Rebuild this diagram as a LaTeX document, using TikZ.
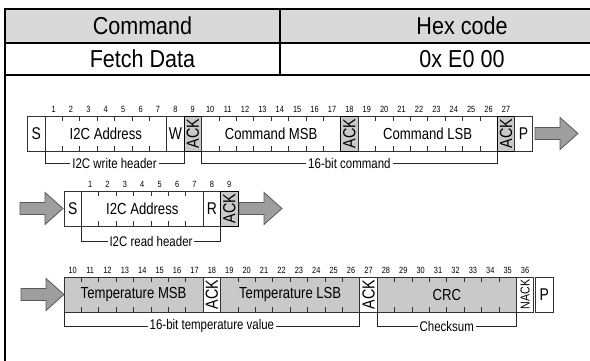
\documentclass[tikz,border=0pt]{standalone}
\usepackage{fontspec}
\setmainfont{Liberation Sans}
\newfontfamily\narrowfont{Liberation Sans}[FakeStretch=0.82]
\newfontfamily\headfont{Liberation Sans}[FakeStretch=0.88]
\usetikzlibrary{calc}

\def\bh{35}
\def\blockarrow(#1,#2){\draw[bigarrow] (#1,#2-6) -- ++(25,0) -- ++(0,-10) -- ++(18,16) -- ++(-18,16) -- ++(0,-10) -- ++(-25,0) -- cycle;}
\newcommand{\field}[6]{%
  \draw[#1] (#2,0) rectangle ++(#3,\bh);
  \foreach \tk in {1,...,#3}{\ifnum\tk<#3 \draw[bittick] (#2+\tk,0) -- ++(0,5) (#2+\tk,\bh) -- ++(0,-5);\fi}
  \node[#5] (#4) at ({#2+#3/2},{\bh/2}) {#6};}

\tikzset{
  tbl/.style={line width=1.8pt},
  whitebox/.style={draw=black!80, line width=0.8pt, fill=white},
  greybox/.style={draw=black!80, line width=0.8pt, fill=black!21},
  ackbox/.style={draw=black, line width=1pt, fill=black!21},
  bittick/.style={draw=black!80, line width=0.8pt},
  bigarrow/.style={draw=black!65, fill=black!38, line width=0.8pt},
  brace/.style={draw=black!85, line width=0.8pt},
  headtxt/.style={font=\headfont\fontsize{24.5}{26}\selectfont},
  fieldtxt/.style={inner sep=0pt, font=\narrowfont\fontsize{16}{18}\selectfont},
  bittxt/.style={inner sep=0pt, font=\narrowfont\fontsize{17}{19}\selectfont},
  acktxt/.style={inner sep=0pt, rotate=90, font=\narrowfont\fontsize{17.5}{19}\selectfont},
  nacktxt/.style={inner sep=0pt, rotate=90, font=\narrowfont\fontsize{13}{15}\selectfont},
  bitno/.style={inner sep=0pt, anchor=base, font=\narrowfont\fontsize{9}{10}\selectfont},
  bracetxt/.style={fill=white, inner sep=2pt, font=\narrowfont\fontsize{14}{16}\selectfont},
}

\begin{document}
\begin{tikzpicture}[x=1pt, y=-1pt]
  \useasboundingbox (0,0) rectangle (590,360);
  \clip (0,0) rectangle (590,360);
  %%%%% table %%%%%
  \fill[black!15] (5,9) rectangle (644,43);
  \draw[tbl] (5,9) rectangle (644,380);
  \draw[tbl] (5,43) -- (644,43) (5,75) -- (644,75) (280,9) -- (280,75);
  \node[headtxt] (cmd) at (142.5,26) {Command};
  \node[headtxt] (hex) at (462,26) {Hex code};
  \node[headtxt] (fetch) at (142.5,59) {Fetch Data};
  \node[headtxt] (code) at (462,59) {0x E0 00};

  %%%%% write header + command %%%%%
  \begin{scope}[shift={(27.5,116)}, x=17.4pt]
    \field{whitebox}{0}{1}{s1}{bittxt}{S}
    \field{whitebox}{1}{7}{addr1}{fieldtxt}{I2C Address}
    \field{whitebox}{8}{1}{w}{bittxt}{W}
    \field{ackbox}{9}{1}{ack9}{acktxt}{ACK}
    \field{whitebox}{10}{8}{cmsb}{fieldtxt}{Command MSB}
    \field{ackbox}{18}{1}{ack18}{acktxt}{ACK}
    \field{whitebox}{19}{8}{clsb}{fieldtxt}{Command LSB}
    \field{ackbox}{27}{1}{ack27}{acktxt}{ACK}
    \field{whitebox}{28}{1}{p1}{bittxt}{P}
    \foreach \n in {1,...,27} \node[bitno] (wb\n) at (\n+0.5,-3.5) {\n};
    \draw[brace] (1,\bh) -- (1,\bh+12) -- node[bracetxt] (wrhdr) {I2C write header} (9,\bh+12) -- (9,\bh);
    \draw[brace] (10,\bh) -- (10,\bh+12) -- node[bracetxt] (cmdval) {16-bit command} (27,\bh+12) -- (27,\bh);
  \end{scope}
  \blockarrow(535,133.5)

  %%%%% read header %%%%%
  \begin{scope}[shift={(64,191)}, x=17.4pt]
    \field{whitebox}{0}{1}{s2}{bittxt}{S}
    \field{whitebox}{1}{7}{addr2}{fieldtxt}{I2C Address}
    \field{whitebox}{8}{1}{r}{bittxt}{R}
    \field{ackbox}{9}{1}{ack9r}{acktxt}{ACK}
    \foreach \n in {1,...,9} \node[bitno] (rb\n) at (\n+0.5,-3.5) {\n};
    \draw[brace] (1,\bh) -- (1,\bh+15) -- node[bracetxt] (rdhdr) {I2C read header} (9,\bh+15) -- (9,\bh);
  \end{scope}
  \blockarrow(20,208.5)
  \blockarrow(239,208.5)

  %%%%% data %%%%%
  \begin{scope}[shift={(64,277)}, x=17.4pt]
    \field{greybox}{0}{8}{tmsb}{fieldtxt}{Temperature MSB}
    \field{whitebox}{8}{1}{ack18d}{acktxt}{ACK}
    \field{greybox}{9}{8}{tlsb}{fieldtxt}{Temperature LSB}
    \field{whitebox}{17}{1}{ack27d}{acktxt}{ACK}
    \field{greybox}{18}{8}{crc}{fieldtxt}{CRC}
    \field{whitebox}{26}{1}{nack}{nacktxt}{NACK}
    \field{whitebox}{27.1}{1}{p3}{bittxt}{P}
    \foreach \n in {10,...,36} \node[bitno] (db\n) at (\n-9.5,-3.5) {\n};
    \draw[brace] (0,\bh) -- (0,\bh+14) -- node[bracetxt] (tval) {16-bit temperature value} (17,\bh+14) -- (17,\bh);
    \draw[brace] (18,\bh) -- (18,\bh+14) -- node[bracetxt] (chk) {Checksum} (26,\bh+14) -- (26,\bh);
  \end{scope}
  \blockarrow(21,294.5)
\end{tikzpicture}
\end{document}
